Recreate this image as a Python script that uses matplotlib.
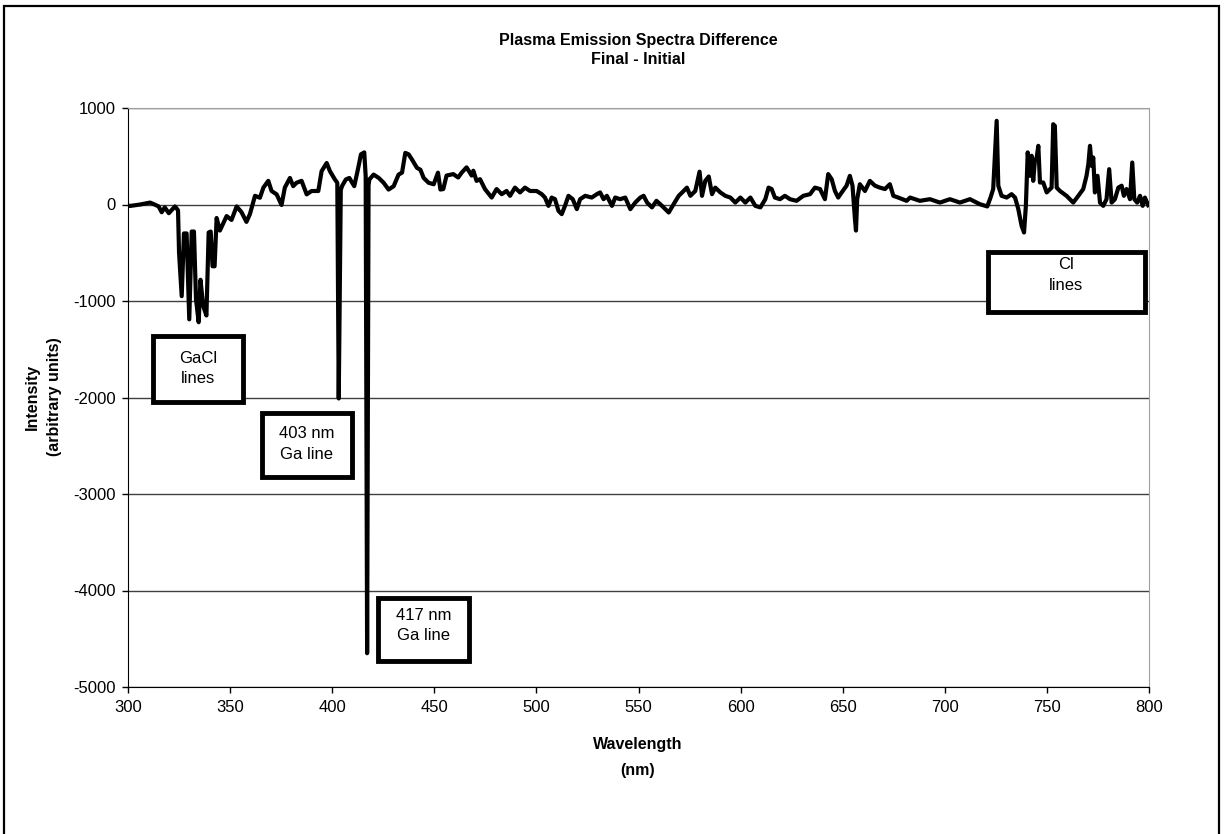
import matplotlib
matplotlib.use('Agg')
import matplotlib.pyplot as plt
from matplotlib.patches import Rectangle

plt.rcParams['font.family'] = ['Liberation Sans', 'DejaVu Sans']
plt.rcParams['axes.unicode_minus'] = False

# spectrum difference (nm, arbitrary units)
wavelength = [300, 301, 306, 310.8, 313, 315, 316.5, 318, 320, 323, 324.5, 325,
              326.3, 327.4, 328.7, 330, 331.2, 332.3, 333.3, 334.6, 335.5, 336.8,
              338.4, 339.5, 340.5, 341.4, 342.4, 343.4, 345, 348.3, 350.7, 353.2,
              355.6, 358, 359.7, 362.2, 364.6, 366.3, 368.7, 370.3, 372.8, 375.2,
              376.8, 379.3, 380.9, 382.5, 385, 387.5, 389.9, 393.2, 394.8, 397.3,
              398.9, 401.3, 402.5, 403.2, 404.2, 404.8, 406.7, 408.4, 410.8, 412.4,
              414.1, 415.7, 416.4, 417.1, 417.8, 418.2, 420.3, 422.8, 425.2, 427.6,
              430.1, 432.5, 434.2, 435.8, 437.4, 439.1, 441.5, 443.2, 444.8, 447.2,
              449.7, 451.8, 453, 454.4, 456, 459.3, 461.7, 463.4, 465.8, 468.3,
              469.1, 470.7, 472.4, 474.8, 478.1, 480.5, 483, 485.4, 487.1, 489.5,
              492, 494.4, 496.9, 500.1, 502.6, 504.2, 505.9, 507.5, 509.1, 510.8,
              512.4, 514, 515.7, 517.8, 519.8, 521.4, 523.9, 527.1, 529.6, 531.2,
              532.9, 534.5, 537, 538.6, 541, 543.5, 546, 548.4, 550.9, 552.5, 554.2,
              556.6, 558.8, 561.5, 564.8, 567.2, 569.7, 572.1, 573.7, 575.4, 577.8,
              579.9, 581.1, 582.7, 584.4, 586, 587.6, 590.1, 592.5, 595, 597.4,
              599.9, 602.3, 604.8, 607.2, 609.7, 612.1, 613.7, 615.2, 616.8, 619.3,
              621.7, 624.2, 627.4, 630.7, 634, 636.4, 638.9, 641.3, 642.9, 644.6,
              646.2, 647.8, 649.5, 651.9, 653.5, 654.8, 656, 656.5, 657.1, 658.4,
              660.9, 663.3, 665.8, 668.2, 670.7, 673.1, 674.8, 677.2, 681.3, 683,
              687.8, 692.7, 697.6, 702.5, 707.4, 712.3, 717.2, 720.8, 722.4, 723.7,
              725.4, 726.2, 727.8, 730.3, 732.7, 734.4, 736, 737.6, 738.8, 739.7,
              740.6, 741.7, 742.5, 743.3, 744.1, 745, 745.8, 746.6, 748.2, 749.9,
              752.3, 753.1, 753.9, 754.8, 756.4, 759.6, 762.9, 765.4, 767.8, 769.4,
              770.3, 771.1, 771.9, 772.7, 773.5, 774.8, 776, 777.6, 779.2, 780.5,
              781.7, 783.3, 785, 786.6, 787.7, 789, 790.7, 791.8, 792.8, 794.2,
              795.6, 796.9, 798, 799.6]
intensity = [-10, -15, 0, 20, 0, -20, -80, -30, -90, -20, -60, -500,
             -950, -300, -300, -1190, -280, -280, -980, -1220, -780, -1050,
             -1150, -290, -280, -640, -640, -140, -270, -120, -160, -20,
             -80, -180, -100, 90, 70, 175, 245, 140, 105, -5,
             175, 275, 190, 225, 245, 105, 140, 140, 345, 430,
             345, 260, 225, -2010, 150, 190, 260, 275, 190, 345,
             520, 540, 290, -4650, 200, 260, 310, 275, 225, 155,
             190, 310, 330, 535, 520, 465, 380, 360, 275, 225,
             210, 330, 155, 160, 300, 315, 280, 330, 385, 300,
             350, 245, 262, 160, 72, 160, 107, 140, 90, 175,
             125, 175, 140, 140, 107, 72, -14, 72, 55, -65,
             -100, -14, 90, 55, -48, 55, 90, 72, 107, 125,
             55, 90, -14, 72, 55, 72, -48, 20, 72, 90, 20,
             -30, 38, -14, -83, 3, 90, 140, 175, 90, 140,
             340, 90, 245, 290, 107, 175, 125, 90, 72, 20,
             72, 20, 72, -14, -30, 55, 175, 160, 72, 55,
             90, 55, 38, 90, 107, 175, 160, 55, 315, 262,
             140, 72, 125, 195, 297, 195, -150, -270, 55, 210,
             140, 245, 195, 175, 160, 210, 90, 72, 38, 72,
             38, 55, 20, 55, 20, 55, 3, -20, 72, 160,
             867, 195, 90, 72, 107, 72, -48, -220, -290, -14,
             540, 297, 505, 245, 452, 487, 608, 228, 228, 125,
             175, 832, 815, 175, 140, 90, 20, 90, 160, 297,
             418, 608, 400, 487, 125, 297, 20, -14, 55, 366,
             20, 55, 175, 195, 90, 160, 55, 435, 55, 20,
             90, -14, 72, -7]

x_ticks = [300, 350, 400, 450, 500, 550, 600, 650, 700, 750, 800]
y_ticks = [-5000, -4000, -3000, -2000, -1000, 0, 1000]

# annotation boxes: label, (x0, y0, x1, y1) in data units
box_labels = ['GaCl\nlines', '403 nm\nGa line', '417 nm\nGa line', 'Cl\nlines']
box_extents = [(312.2, -2047, 356.3, -1363),
               (365.6, -2824, 409.7, -2161),
               (422.4, -4731, 467.0, -4078),
               (721.1, -1114, 798.0, -492)]
box_text_y = [-1700, -2480, -4363, -730]

W, H = 1225, 834
fig = plt.figure(figsize=(W / 100, H / 100), dpi=100)
ax = fig.add_axes([128 / W, 1 - 687 / H, 1021 / W, 579 / H])

ax.plot(wavelength, intensity, color='black', lw=3, solid_joinstyle='round', zorder=3)

ax.set_xlim(300, 800)
ax.set_ylim(-5000, 1000)
ax.set_xticks(x_ticks)
ax.set_yticks(y_ticks)
ax.tick_params(axis='both', direction='out', length=4, width=1, labelsize=12, pad=5)
ax.yaxis.grid(True, color='#404040', lw=1)
ax.set_axisbelow(True)
for s in ['top', 'right']:
    ax.spines[s].set_color('#a0a0a0')
for s in ['left', 'bottom']:
    ax.spines[s].set_color('black')

for lab, (x0, y0, x1, y1), ty in zip(box_labels, box_extents, box_text_y):
    ax.add_patch(Rectangle((x0, y0), x1 - x0, y1 - y0, facecolor='white',
                           edgecolor='black', lw=3.5, zorder=5, clip_on=False))
    ax.text((x0 + x1) / 2, ty, lab, ha='center', va='center', fontsize=12,
            linespacing=1.45, zorder=6)

# titles and axis labels
fig.text(638 / W, 1 - 40 / H, 'Plasma Emission Spectra Difference', ha='center',
         va='center', fontsize=11.5, fontweight='bold')
fig.text(638 / W, 1 - 60 / H, 'Final - Initial', ha='center', va='center',
         fontsize=11.5, fontweight='bold')
fig.text(638 / W, 1 - 745 / H, 'Wavelength', ha='center', va='center',
         fontsize=11.5, fontweight='bold')
fig.text(638 / W, 1 - 771 / H, '(nm)', ha='center', va='center',
         fontsize=11.5, fontweight='bold')
fig.text(32 / W, 1 - 397 / H, 'Intensity', ha='center', va='center',
         rotation=90, fontsize=11.5, fontweight='bold')
fig.text(54 / W, 1 - 397 / H, '(arbitrary units)', ha='center', va='center',
         rotation=90, fontsize=11.5, fontweight='bold')

# outer chart frame (bottom edge runs past the picture)
fig.patches.append(Rectangle((4 / W, -0.02), 1215 / W, 1 - 6 / H + 0.02,
                             transform=fig.transFigure, fill=False,
                             edgecolor='black', lw=1.6))

fig.savefig('out.png', dpi=100)
